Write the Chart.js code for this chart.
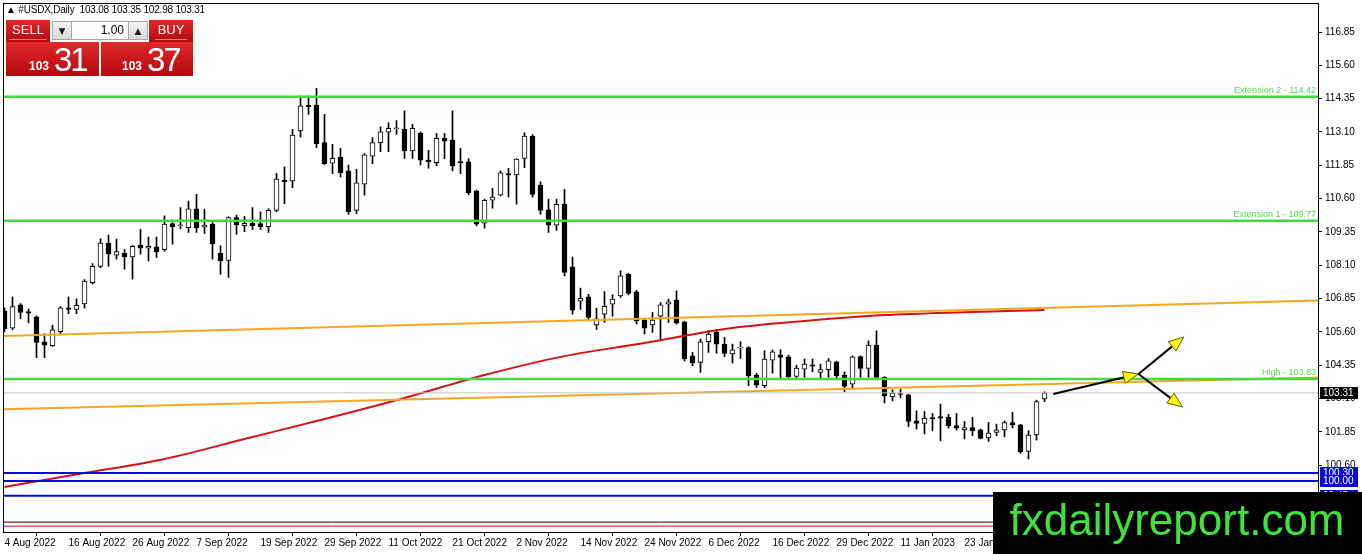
<!DOCTYPE html>
<html>
<head>
<meta charset="utf-8">
<script src="https://cdn.jsdelivr.net/npm/chart.js@4.4.1/dist/chart.umd.min.js"></script>
<style>
  html, body { margin: 0; padding: 0; background: #fff; overflow: hidden; }
  #wrap { position: relative; width: 1362px; height: 554px; }
  #hdr { position: absolute; left: 6px; top: 4px; font: 10px 'Liberation Sans', Arial, sans-serif; letter-spacing: -0.2px; color: #000; white-space: pre; }
  .red { position: absolute; background: linear-gradient(#e0292b, #b30a0d); color: #fff; font-family: 'Liberation Sans', Arial, sans-serif; }
  .grey { position: absolute; background: linear-gradient(#f4f4f4, #d8d8d8); border: 1px solid #a8a8a8; box-sizing: border-box; font: 9px 'DejaVu Sans', sans-serif; color: #222; text-align: center; line-height: 18px; }
  #lot { position: absolute; left: 72px; top: 21px; width: 56px; height: 19px; background: #fff; border-top: 1px solid #a8a8a8; border-bottom: 1px solid #a8a8a8; box-sizing: border-box; font: 12px 'Liberation Sans', Arial, sans-serif; text-align: right; padding-right: 4px; line-height: 17px; }
  .btn { font-size: 13px; text-align: center; line-height: 20px; }
  .btn span { display: inline-block; border-bottom: 1px solid #f07a7a; padding: 0 3px; line-height: 19px; }
  .big { height: 34px; }
  .big b { position: absolute; bottom: 3px; font-size: 12px; }
  .big i { position: absolute; bottom: 0px; font-style: normal; font-size: 33px; letter-spacing: -2px; line-height: 33px; }
</style>
</head>
<body>
<div id="wrap">
  <canvas id="chart"></canvas>
  <div id="hdr"></div>
  <div class="red btn" style="left:6px;top:20px;width:44px;height:22px;"><span>SELL</span></div>
  <div class="grey" style="left:52px;top:21px;width:20px;height:19px;">&#9660;</div>
  <div id="lot">1.00</div>
  <div class="grey" style="left:128px;top:21px;width:20px;height:19px;">&#9650;</div>
  <div class="red btn" style="left:149px;top:20px;width:44px;height:22px;"><span>BUY</span></div>
  <div class="red big" style="left:6px;top:42px;width:93px;"><b id="sellA" style="left:23px"></b><i id="sellB" style="left:48px"></i></div>
  <div class="red big" style="left:101px;top:42px;width:92px;"><b id="buyA" style="left:21px"></b><i id="buyB" style="left:46px"></i></div>
</div>
<script>
// daily OHLC, first candle = 4 Aug 2022
const opens = [
  106.39, 105.74, 106.61, 106.36, 106.16, 105.23, 105.08, 105.61, 106.50, 106.44,
  106.65, 107.45, 108.06, 108.93, 108.48, 108.55, 108.41, 108.86, 108.74, 108.79,
  108.68, 109.66, 109.58, 109.51, 110.22, 109.53, 109.64, 108.55, 108.28, 109.89,
  109.58, 109.67, 109.66, 109.55, 110.16, 111.30, 111.26, 113.14, 114.11, 114.11,
  112.70, 111.93, 112.16, 111.64, 110.16, 111.14, 112.19, 112.70, 113.09, 113.22,
  113.20, 112.39, 113.06, 112.05, 111.95, 112.86, 112.80, 111.98, 111.98, 110.89,
  109.68, 110.54, 110.73, 111.54, 111.49, 112.11, 112.95, 111.11, 110.18, 109.60,
  110.39, 108.04, 106.75, 106.91, 105.86, 106.26, 106.64, 106.95, 107.76, 107.10,
  106.04, 105.86, 106.19, 106.64, 106.79, 105.98, 104.70, 104.45, 105.23, 105.58,
  105.14, 104.77, 104.99, 105.01, 103.98, 103.58, 104.54, 104.74, 104.66, 103.93,
  104.20, 104.36, 104.08, 104.18, 104.48, 103.98, 103.64, 104.67, 104.23, 105.10,
  103.89, 103.17, 103.28, 103.24, 102.26, 102.16, 102.38, 102.42, 102.39, 102.08,
  101.92, 102.01, 101.92, 101.62, 101.83, 101.92, 102.20, 102.11, 101.11, 101.73,
  103.08
];
const highs = [
  106.50, 106.91, 106.66, 106.46, 106.20, 105.53, 105.85, 106.55, 106.91, 106.84,
  107.56, 108.16, 109.09, 109.23, 109.08, 108.70, 108.85, 109.45, 109.16, 109.16,
  109.95, 109.70, 110.26, 110.51, 110.76, 110.20, 109.70, 108.83, 109.92, 109.98,
  109.93, 110.26, 110.10, 110.22, 111.55, 111.79, 113.20, 114.45, 114.45, 114.74,
  113.76, 112.64, 112.49, 111.86, 111.70, 112.29, 112.89, 113.29, 113.45, 113.53,
  113.89, 113.39, 113.10, 112.41, 113.05, 113.05, 113.89, 112.49, 112.10, 110.92,
  110.58, 110.99, 111.64, 111.74, 112.10, 113.07, 113.00, 111.23, 110.58, 110.58,
  110.95, 108.41, 107.24, 107.01, 106.49, 107.11, 106.99, 107.89, 107.80, 107.16,
  106.08, 106.33, 106.70, 106.83, 107.14, 106.00, 104.83, 105.33, 105.64, 105.70,
  105.39, 105.14, 105.23, 105.05, 104.05, 104.89, 104.92, 104.93, 104.73, 104.35,
  104.58, 104.58, 104.39, 104.60, 104.50, 104.10, 104.70, 104.70, 105.26, 105.64,
  103.92, 103.43, 103.45, 103.26, 102.64, 102.61, 102.54, 102.89, 102.51, 102.54,
  102.24, 102.39, 101.95, 102.20, 102.14, 102.26, 102.58, 102.13, 101.89, 103.04,
  103.35
];
const lows = [
  105.60, 105.68, 106.09, 105.94, 104.63, 104.63, 105.05, 105.53, 106.28, 106.28,
  106.49, 107.40, 108.00, 108.06, 108.33, 107.95, 107.58, 108.52, 108.26, 108.39,
  108.62, 108.89, 109.47, 109.33, 109.33, 109.29, 108.33, 107.76, 107.64, 109.26,
  109.36, 109.44, 109.44, 109.33, 110.10, 110.41, 111.01, 112.91, 113.76, 112.51,
  111.88, 111.54, 111.41, 110.01, 110.04, 110.73, 111.91, 112.36, 112.36, 113.01,
  112.11, 112.11, 111.86, 111.74, 111.83, 112.10, 111.64, 111.54, 110.74, 109.58,
  109.49, 110.24, 110.70, 110.66, 110.39, 111.76, 110.66, 110.01, 109.33, 109.41,
  107.70, 106.26, 106.44, 106.06, 105.69, 105.96, 106.19, 106.89, 106.99, 105.89,
  105.52, 105.58, 105.26, 105.95, 105.89, 104.51, 104.33, 104.08, 104.83, 104.80,
  104.67, 104.43, 104.60, 103.58, 103.51, 103.51, 104.05, 103.83, 103.89, 103.83,
  103.89, 104.10, 103.85, 103.89, 103.83, 103.35, 103.43, 103.89, 103.89, 103.86,
  102.93, 103.01, 103.12, 102.04, 101.95, 101.77, 101.89, 101.51, 101.99, 101.92,
  101.58, 101.70, 101.58, 101.49, 101.70, 101.66, 101.99, 101.04, 100.83, 101.54,
  102.98
];
const closes = [
  105.71, 106.55, 106.33, 106.30, 105.20, 105.10, 105.68, 106.50, 106.44, 106.60,
  107.51, 108.06, 108.93, 108.52, 108.61, 108.41, 108.81, 108.74, 108.81, 108.61,
  109.64, 109.55, 109.60, 110.22, 109.51, 109.61, 108.91, 108.26, 109.89, 109.61,
  109.67, 109.58, 109.55, 110.16, 111.33, 111.24, 112.98, 114.08, 114.05, 112.66,
  111.91, 112.11, 111.57, 110.11, 111.19, 112.24, 112.70, 113.11, 113.24, 113.24,
  112.39, 113.24, 112.04, 111.98, 112.86, 112.76, 111.83, 111.95, 110.82, 109.64,
  110.54, 110.66, 111.57, 111.48, 112.08, 112.95, 110.76, 110.16, 109.60, 110.39,
  107.83, 106.41, 106.86, 106.14, 106.09, 106.56, 106.83, 107.70, 107.04, 106.01,
  105.74, 106.04, 106.61, 106.73, 105.93, 104.58, 104.43, 105.23, 105.52, 105.14,
  104.79, 104.93, 105.01, 103.95, 103.60, 104.58, 104.85, 104.64, 103.91, 104.24,
  104.39, 104.31, 104.18, 104.51, 103.95, 103.55, 104.66, 104.23, 105.10, 103.89,
  103.20, 103.30, 103.25, 102.24, 102.16, 102.36, 102.33, 102.36, 102.08, 101.99,
  102.01, 101.89, 101.60, 101.80, 101.92, 102.20, 102.11, 101.10, 101.73, 102.98,
  103.31
];
const bidPrice = 103.31;
const askPrice = 103.37;

// date labels every 8 bars
const xTickIdx = [0, 8, 16, 24, 32, 40, 48, 56, 64, 72, 80, 88, 96, 104, 112, 120];
const xTickLabels = ['4 Aug 2022', '16 Aug 2022', '26 Aug 2022', '7 Sep 2022', '19 Sep 2022',
  '29 Sep 2022', '11 Oct 2022', '21 Oct 2022', '2 Nov 2022', '14 Nov 2022', '24 Nov 2022',
  '6 Dec 2022', '16 Dec 2022', '29 Dec 2022', '11 Jan 2023', '23 Jan 2023'];
const yTickValues = [100.60, 101.85, 103.10, 104.35, 105.60, 106.85, 108.10, 109.35,
  110.60, 111.85, 113.10, 114.35, 115.60, 116.85];

// horizontal levels
const greenLevels = [114.42, 109.77, 103.83];
const greenTexts = ['Extension 2 - 114.42', 'Extension 1 - 109.77', 'High - 103.83'];
const blueLevels = [100.30, 100.00, 99.45];
const blackLevel = 98.46;
const redLevel = 98.31;

// trend lines (bar index, price)
const upperTrendIdx = [-0.19, 164.19];
const upperTrendVal = [105.44, 106.78];
const lowerTrendIdx = [-0.19, 164.19];
const lowerTrendVal = [102.70, 103.89];

// moving average read every 10 bars
const maIdx = [0, 10, 20, 30, 40, 50, 60, 70, 80, 90, 100, 110, 120, 130];
const maVal = [99.78, 100.30, 100.83, 101.58, 102.33, 103.12, 103.98, 104.69, 105.18,
  105.71, 106.01, 106.23, 106.34, 106.42];

// arrows drawn on the chart (bar index, price)
const arrowStart = [131.1, 103.27];
const arrowHub = [141.75, 104.02];
const arrowUp = [147.4, 105.41];
const arrowDown = [147.25, 102.78];

const X_MIN = -0.1875;
const X_MAX = 164.1875;
const Y_MIN = 98.09;
const Y_MAX = 117.94;

// header & trade panel
const last = closes.length - 1;
document.getElementById('hdr').textContent = '\u25B2 #USDX,Daily  ' +
  [opens[last], highs[last], lows[last], closes[last]].map(v => v.toFixed(2)).join(' ');
const bidStr = bidPrice.toFixed(2).split('.');
const askStr = askPrice.toFixed(2).split('.');
document.getElementById('sellA').textContent = bidStr[0];
document.getElementById('sellB').textContent = bidStr[1];
document.getElementById('buyA').textContent = askStr[0];
document.getElementById('buyB').textContent = askStr[1];

const idx = closes.map((_, i) => i);
const wickData = idx.map(i => ({ x: i, y: [lows[i], highs[i]] }));
const bodyData = idx.map(i => ({ x: i, y: [opens[i], closes[i]] }));

function hLine(val, color, width) {
  return {
    type: 'line',
    data: [{ x: X_MIN, y: val }, { x: X_MAX, y: val }],
    borderColor: color, borderWidth: width, pointRadius: 0, order: 0,
  };
}

function drawArrow(ctx, x1, y1, x2, y2) {
  const ang = Math.atan2(y2 - y1, x2 - x1);
  const len = 15, half = 6;
  ctx.strokeStyle = '#000';
  ctx.lineWidth = 2;
  ctx.beginPath();
  ctx.moveTo(x1, y1);
  ctx.lineTo(x2 - Math.cos(ang) * len * 0.6, y2 - Math.sin(ang) * len * 0.6);
  ctx.stroke();
  const bx = x2 - Math.cos(ang) * len, by = y2 - Math.sin(ang) * len;
  ctx.beginPath();
  ctx.moveTo(x2, y2);
  ctx.lineTo(bx + Math.sin(ang) * half, by - Math.cos(ang) * half);
  ctx.lineTo(bx - Math.sin(ang) * half, by + Math.cos(ang) * half);
  ctx.closePath();
  ctx.fillStyle = '#ffff00';
  ctx.fill();
  ctx.lineWidth = 1;
  ctx.strokeStyle = '#5a5a00';
  ctx.stroke();
}

function priceBox(ctx, y, val, bg) {
  const py = Math.round(y.getPixelForValue(val));
  ctx.fillStyle = bg;
  ctx.fillRect(1320, py - 6, 38, 12);
  ctx.fillStyle = '#fff';
  ctx.fillText(val.toFixed(2), 1323, py + 0.5);
}

const overlayPlugin = {
  id: 'overlay',
  beforeDatasetsDraw(chart) {
    const { ctx, chartArea: a, scales: { y } } = chart;
    ctx.save();
    ctx.font = '9px "Liberation Sans", Arial, sans-serif';
    ctx.fillStyle = '#4edf4e';
    ctx.textAlign = 'right';
    ctx.textBaseline = 'bottom';
    greenLevels.forEach((v, i) => {
      ctx.fillText(greenTexts[i], a.right - 2, y.getPixelForValue(v) - 2);
    });
    ctx.restore();
  },
  afterDatasetsDraw(chart) {
    const { ctx, scales: { x, y } } = chart;
    const px = p => [x.getPixelForValue(p[0]), y.getPixelForValue(p[1])];
    const s = px(arrowStart), h = px(arrowHub), u = px(arrowUp), d = px(arrowDown);
    ctx.save();
    drawArrow(ctx, s[0], s[1], h[0], h[1]);
    drawArrow(ctx, h[0], h[1], u[0], u[1]);
    drawArrow(ctx, h[0], h[1], d[0], d[1]);
    ctx.restore();
  },
  afterDraw(chart) {
    const { ctx, chartArea: a, scales: { y } } = chart;
    const W = chart.width, H = chart.height;
    ctx.save();
    ctx.strokeStyle = '#000';
    ctx.lineWidth = 1;
    ctx.strokeRect(a.left + 0.5, a.top + 0.5, a.right - a.left, a.bottom - a.top);

    ctx.font = '10px "Liberation Sans", Arial, sans-serif';
    ctx.textAlign = 'left';
    ctx.textBaseline = 'middle';
    priceBox(ctx, y, bidPrice, '#000');
    blueLevels.forEach(v => priceBox(ctx, y, v, '#0a0ad6'));

    // site watermark
    ctx.fillStyle = '#000';
    ctx.fillRect(W - 369, H - 62, 369, 62);
    ctx.fillStyle = '#3fe23f';
    ctx.font = '44px "Liberation Sans", Arial, sans-serif';
    ctx.textAlign = 'center';
    ctx.textBaseline = 'middle';
    ctx.fillText('fxdailyreport.com', W - 185, H - 31);
    ctx.restore();
  },
};

new Chart(document.getElementById('chart'), {
  type: 'bar',
  data: {
    datasets: [
      ...greenLevels.map(v => hLine(v, '#44d844', 2.5)),
      ...blueLevels.map(v => hLine(v, '#0a0ad6', 2)),
      hLine(blackLevel, '#000', 1),
      hLine(redLevel, '#e00000', 1),
      hLine(bidPrice, '#c4c4c4', 1),
      {
        type: 'line',
        data: upperTrendIdx.map((v, i) => ({ x: v, y: upperTrendVal[i] })),
        borderColor: '#f5a623', borderWidth: 2, pointRadius: 0, order: 0,
      },
      {
        type: 'line',
        data: lowerTrendIdx.map((v, i) => ({ x: v, y: lowerTrendVal[i] })),
        borderColor: '#f5a623', borderWidth: 2, pointRadius: 0, order: 0,
      },
      {
        type: 'line',
        data: maIdx.map((v, i) => ({ x: v, y: maVal[i] })),
        borderColor: '#d41414', borderWidth: 2, pointRadius: 0,
        cubicInterpolationMode: 'monotone', order: 0,
      },
      {
        label: 'wicks',
        data: wickData,
        backgroundColor: '#000',
        borderWidth: 0,
        barThickness: 1,
        grouped: false,
        order: 2,
      },
      {
        label: 'bodies',
        data: bodyData,
        backgroundColor: ctx => closes[ctx.dataIndex] >= opens[ctx.dataIndex] ? '#fff' : '#000',
        borderColor: '#000',
        borderWidth: 1,
        borderSkipped: false,
        barThickness: 5,
        minBarLength: 1,
        grouped: false,
        order: 1,
      },
    ],
  },
  options: {
    responsive: true,
    maintainAspectRatio: false,
    animation: false,
    layout: { padding: { left: 3, top: 3, right: 0, bottom: 0 } },
    plugins: { legend: { display: false }, tooltip: { enabled: false } },
    scales: {
      x: {
        type: 'linear',
        min: X_MIN,
        max: X_MAX,
        offset: false,
        afterBuildTicks: s => { s.ticks = xTickIdx.map(v => ({ value: v })); },
        afterFit: s => { s.height = 22; s.paddingLeft = 0; s.paddingRight = 0; },
        grid: { drawOnChartArea: false, tickLength: 4, color: '#000' },
        border: { color: '#000' },
        ticks: {
          autoSkip: false,
          maxRotation: 0,
          align: 'start',
          padding: 1,
          color: '#000',
          font: { family: "'Liberation Sans', Arial, sans-serif", size: 10 },
          callback: v => xTickLabels[xTickIdx.indexOf(v)],
        },
      },
      y: {
        position: 'right',
        min: Y_MIN,
        max: Y_MAX,
        afterBuildTicks: s => { s.ticks = yTickValues.map(v => ({ value: v })); },
        afterFit: s => { s.width = 44; s.paddingTop = 0; s.paddingBottom = 0; },
        grid: { drawOnChartArea: false, tickLength: 4, color: '#000' },
        border: { color: '#000' },
        ticks: {
          autoSkip: false,
          padding: 3,
          color: '#000',
          font: { family: "'Liberation Sans', Arial, sans-serif", size: 10 },
          callback: v => Number(v).toFixed(2),
        },
      },
    },
  },
  plugins: [overlayPlugin],
});
</script>
</body>
</html>
